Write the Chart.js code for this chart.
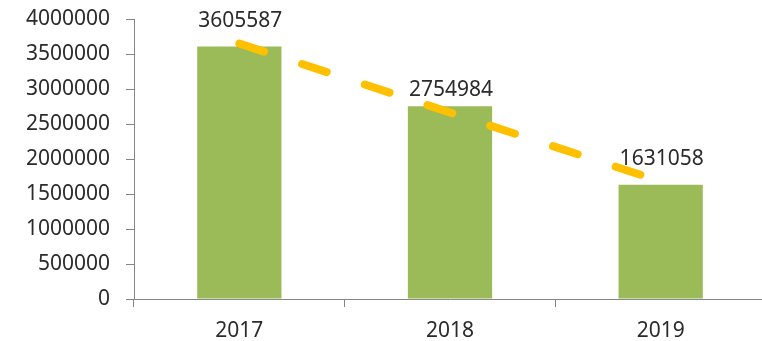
<!DOCTYPE html>
<html>
<head>
<meta charset="utf-8">
<script src="https://cdn.jsdelivr.net/npm/chart.js@4/dist/chart.umd.min.js"></script>
<style>
  html, body { margin: 0; padding: 0; background: #fff; overflow: hidden; }
  #wrap { width: 766px; height: 341px; position: relative; }
</style>
</head>
<body>
<div id="wrap"><canvas id="yearChart"></canvas></div>
<script>
const years = ["2017", "2018", "2019"];
const totals = [3605587, 2754984, 1631058];
// linear trend
const trend = [3650000, 2665000, 1680000];
const yTicks = [0, 500000, 1000000, 1500000, 2000000, 2500000, 3000000, 3500000, 4000000];

const axisGray = "#868686";
const textColor = "#2b2b2b";
const fontFamily = "'Noto Sans', 'Open Sans', sans-serif";

// value labels sitting above each bar
const barLabels = {
    id: "barLabels",
    afterDatasetsDraw(chart) {
        const ctx = chart.ctx;
        const meta = chart.getDatasetMeta(0);
        ctx.save();
        ctx.font = "21px " + fontFamily;
        ctx.fillStyle = textColor;
        ctx.textAlign = "center";
        ctx.textBaseline = "middle";
        meta.data.forEach((bar, i) => {
            ctx.fillText(String(totals[i]), bar.x + 1, bar.y - 22);
        });
        ctx.restore();
    }
};

new Chart(document.getElementById("yearChart"), {
    data: {
        labels: years,
        datasets: [
            {
                type: "line",
                data: trend,
                borderColor: "#FFC000",
                borderWidth: 8,
                borderDash: [26, 40],
                borderCapStyle: "round",
                pointRadius: 0,
                fill: false,
                order: 0
            },
            {
                type: "bar",
                data: totals,
                backgroundColor: "#9BBB59",
                categoryPercentage: 1,
                barPercentage: 0.4,
                order: 1
            }
        ]
    },
    options: {
        responsive: true,
        maintainAspectRatio: false,
        animation: false,
        layout: { padding: { top: 19, left: 0, right: 0, bottom: 0 } },
        plugins: { legend: { display: false }, tooltip: { enabled: false } },
        scales: {
            x: {
                offset: true,
                afterFit: (s) => { s.height = 42; s.paddingLeft = 0; s.paddingRight = 0; },
                grid: { offset: true, drawOnChartArea: false, drawTicks: true, tickLength: 8, color: axisGray },
                border: { color: axisGray },
                ticks: { color: textColor, padding: 11, font: { family: fontFamily, size: 21 } }
            },
            y: {
                min: 0,
                max: 4000000,
                afterFit: (s) => { s.width = 134; s.paddingTop = 0; s.paddingBottom = 0; },
                afterBuildTicks: (s) => { s.ticks = yTicks.map(v => ({ value: v })); },
                grid: { drawOnChartArea: false, drawTicks: true, tickLength: 8, color: axisGray },
                border: { color: axisGray },
                ticks: {
                    color: textColor,
                    padding: 16,
                    font: { family: fontFamily, size: 21 },
                    callback: (v) => String(v)
                }
            }
        }
    },
    plugins: [barLabels]
});
</script>
</body>
</html>
